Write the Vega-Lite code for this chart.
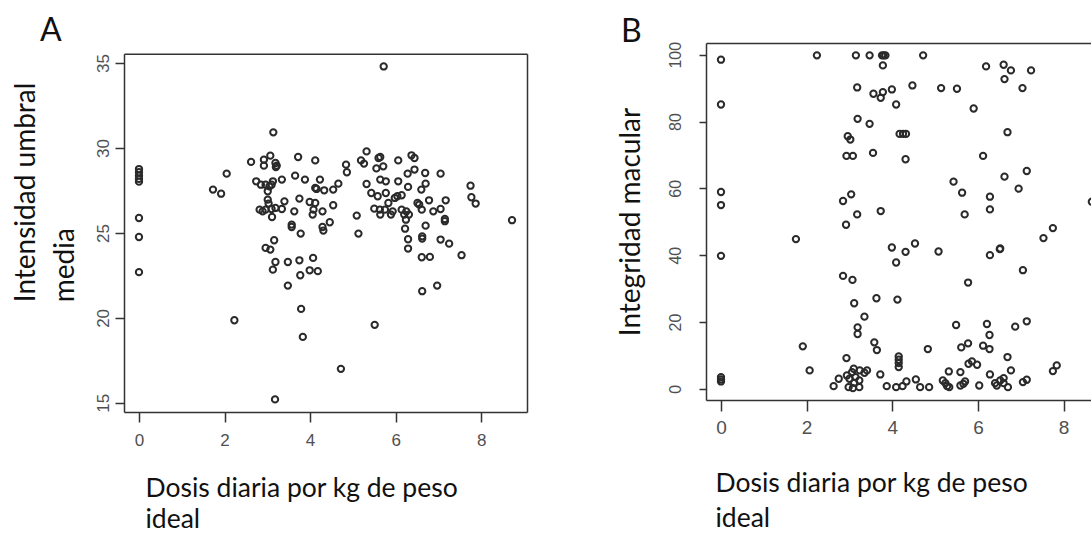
{
  "$schema": "https://vega.github.io/schema/vega-lite/v6.json",
  "background": "white",
  "padding": {"left": 12, "top": 15, "right": 0, "bottom": 0},
  "spacing": 90,
  "config": {
    "view": {"stroke": "#333", "strokeWidth": 1.5},
    "axis": {"grid": false, "domainColor": "#333", "domainWidth": 1.5, "tickColor": "#333", "tickWidth": 1.5, "labelFont": "Liberation Sans", "labelColor": "#505050", "titleFont": "Lato", "titleFontWeight": "normal", "titleColor": "#111"},
    "title": {"font": "Lato", "fontSize": 32, "fontWeight": "normal", "color": "#111", "anchor": "start", "frame": "group", "baseline": "alphabetic"}
  },
  "datasets": {
    "a": [
      {"x": 0, "y": 28.76}, {"x": 0, "y": 28.57}, {"x": 0, "y": 28.37}, {"x": 0, "y": 28.18}, {"x": 0, "y": 28.02},
      {"x": 0, "y": 25.88}, {"x": 0, "y": 24.76}, {"x": 0, "y": 22.69},
      {"x": 1.73, "y": 27.55}, {"x": 1.92, "y": 27.31}, {"x": 2.05, "y": 28.49}, {"x": 2.23, "y": 19.86},
      {"x": 2.62, "y": 29.18}, {"x": 2.74, "y": 28.04}, {"x": 2.85, "y": 27.84}, {"x": 2.92, "y": 29.31},
      {"x": 2.92, "y": 28.96}, {"x": 2.96, "y": 27.84}, {"x": 3.07, "y": 29.55}, {"x": 3.05, "y": 27.75},
      {"x": 3.1, "y": 27.84}, {"x": 3.13, "y": 28.04}, {"x": 3.14, "y": 30.92}, {"x": 3.19, "y": 29.12},
      {"x": 3.22, "y": 28.96}, {"x": 3.2, "y": 28.88}, {"x": 3.34, "y": 28.14}, {"x": 3.01, "y": 27.45},
      {"x": 3.01, "y": 26.96}, {"x": 3.03, "y": 26.73}, {"x": 2.82, "y": 26.37}, {"x": 2.89, "y": 26.27},
      {"x": 2.96, "y": 26.37}, {"x": 3.1, "y": 26.41}, {"x": 3.11, "y": 25.94}, {"x": 3.19, "y": 26.47},
      {"x": 3.34, "y": 26.41}, {"x": 3.4, "y": 26.86}, {"x": 3.16, "y": 24.57}, {"x": 2.96, "y": 24.12},
      {"x": 3.07, "y": 24.02}, {"x": 3.19, "y": 23.29}, {"x": 3.13, "y": 22.84}, {"x": 3.48, "y": 23.29},
      {"x": 3.48, "y": 21.9}, {"x": 3.18, "y": 15.2}, {"x": 3.57, "y": 25.49}, {"x": 3.57, "y": 25.35},
      {"x": 3.63, "y": 26.27}, {"x": 3.65, "y": 28.37}, {"x": 3.72, "y": 29.47}, {"x": 3.75, "y": 27.02},
      {"x": 3.78, "y": 24.96}, {"x": 3.75, "y": 23.39}, {"x": 3.77, "y": 22.51}, {"x": 3.79, "y": 20.53},
      {"x": 3.83, "y": 18.88}, {"x": 3.88, "y": 28.14}, {"x": 3.99, "y": 26.82}, {"x": 3.99, "y": 22.8},
      {"x": 4.06, "y": 26.08}, {"x": 4.08, "y": 26.37}, {"x": 4.12, "y": 29.27}, {"x": 4.12, "y": 26.76},
      {"x": 4.12, "y": 27.65}, {"x": 4.15, "y": 27.59}, {"x": 4.07, "y": 23.53}, {"x": 4.18, "y": 22.75},
      {"x": 4.23, "y": 28.14}, {"x": 4.29, "y": 26.27}, {"x": 4.29, "y": 25.35}, {"x": 4.31, "y": 25.14},
      {"x": 4.33, "y": 27.51}, {"x": 4.46, "y": 25.63}, {"x": 4.54, "y": 26.63}, {"x": 4.54, "y": 27.55},
      {"x": 4.66, "y": 27.9}, {"x": 4.72, "y": 17.0}, {"x": 4.84, "y": 29.02}, {"x": 4.86, "y": 28.57},
      {"x": 5.09, "y": 26.02}, {"x": 5.13, "y": 24.96}, {"x": 5.19, "y": 29.27}, {"x": 5.26, "y": 29.08},
      {"x": 5.32, "y": 29.8}, {"x": 5.32, "y": 27.88}, {"x": 5.43, "y": 27.35}, {"x": 5.5, "y": 26.43},
      {"x": 5.51, "y": 19.59}, {"x": 5.55, "y": 28.8}, {"x": 5.6, "y": 29.41}, {"x": 5.64, "y": 29.47},
      {"x": 5.58, "y": 27.16}, {"x": 5.63, "y": 26.37}, {"x": 5.64, "y": 26.08}, {"x": 5.64, "y": 28.14},
      {"x": 5.71, "y": 28.92}, {"x": 5.72, "y": 34.8}, {"x": 5.75, "y": 26.37}, {"x": 5.77, "y": 28.04},
      {"x": 5.77, "y": 27.35}, {"x": 5.83, "y": 26.76}, {"x": 5.89, "y": 26.08}, {"x": 5.93, "y": 26.27},
      {"x": 5.98, "y": 27.06}, {"x": 6.04, "y": 27.16}, {"x": 6.06, "y": 29.27}, {"x": 6.06, "y": 28.04},
      {"x": 6.14, "y": 27.22}, {"x": 6.14, "y": 26.37}, {"x": 6.2, "y": 26.08}, {"x": 6.22, "y": 25.25},
      {"x": 6.25, "y": 26.27}, {"x": 6.28, "y": 28.49}, {"x": 6.29, "y": 27.71}, {"x": 6.29, "y": 24.63},
      {"x": 6.29, "y": 24.08}, {"x": 6.24, "y": 25.78}, {"x": 6.31, "y": 26.08}, {"x": 6.37, "y": 29.57},
      {"x": 6.44, "y": 29.41}, {"x": 6.44, "y": 28.73}, {"x": 6.51, "y": 26.76}, {"x": 6.55, "y": 26.67},
      {"x": 6.6, "y": 27.55}, {"x": 6.61, "y": 26.37}, {"x": 6.62, "y": 24.8}, {"x": 6.62, "y": 24.67},
      {"x": 6.61, "y": 23.57}, {"x": 6.62, "y": 21.57}, {"x": 6.69, "y": 28.53}, {"x": 6.7, "y": 27.9},
      {"x": 6.7, "y": 25.43}, {"x": 6.78, "y": 26.92}, {"x": 6.8, "y": 23.59}, {"x": 6.88, "y": 26.27},
      {"x": 6.97, "y": 21.9}, {"x": 7.05, "y": 28.49}, {"x": 7.05, "y": 26.41}, {"x": 7.05, "y": 24.61},
      {"x": 7.15, "y": 25.82}, {"x": 7.15, "y": 25.69}, {"x": 7.17, "y": 26.92}, {"x": 7.25, "y": 24.37},
      {"x": 7.54, "y": 23.69}, {"x": 7.75, "y": 27.78}, {"x": 7.77, "y": 27.1}, {"x": 7.87, "y": 26.73},
      {"x": 8.72, "y": 25.75}
    ],
    "b": [
      {"x": 0, "y": 98.5}, {"x": 0, "y": 85.1}, {"x": 0, "y": 58.9}, {"x": 0, "y": 55.0}, {"x": 0, "y": 39.8},
      {"x": 0, "y": 3.5}, {"x": 0, "y": 2.8}, {"x": 0, "y": 2.2},
      {"x": 1.75, "y": 44.8}, {"x": 1.91, "y": 12.7}, {"x": 2.07, "y": 5.5}, {"x": 2.24, "y": 99.8},
      {"x": 2.63, "y": 0.8}, {"x": 2.75, "y": 3.0}, {"x": 2.85, "y": 56.2}, {"x": 2.85, "y": 33.8},
      {"x": 2.92, "y": 49.1}, {"x": 2.93, "y": 9.2}, {"x": 2.93, "y": 69.7}, {"x": 2.96, "y": 75.6},
      {"x": 3.02, "y": 74.6}, {"x": 3.04, "y": 58.2}, {"x": 3.07, "y": 32.6}, {"x": 3.08, "y": 69.7},
      {"x": 2.94, "y": 4.0}, {"x": 3.0, "y": 3.0}, {"x": 3.06, "y": 5.0}, {"x": 2.98, "y": 0.5},
      {"x": 3.08, "y": 0.2}, {"x": 3.1, "y": 6.0}, {"x": 3.14, "y": 3.5}, {"x": 3.11, "y": 1.8},
      {"x": 3.15, "y": 99.8}, {"x": 3.18, "y": 90.2}, {"x": 3.19, "y": 80.8}, {"x": 3.18, "y": 52.2},
      {"x": 3.11, "y": 25.6}, {"x": 3.19, "y": 18.4}, {"x": 3.19, "y": 16.4}, {"x": 3.23, "y": 0.5},
      {"x": 3.23, "y": 2.5}, {"x": 3.24, "y": 5.5}, {"x": 3.35, "y": 4.8}, {"x": 3.35, "y": 21.6},
      {"x": 3.41, "y": 5.5}, {"x": 3.47, "y": 99.8}, {"x": 3.47, "y": 79.3}, {"x": 3.55, "y": 70.6},
      {"x": 3.56, "y": 88.3}, {"x": 3.58, "y": 13.9}, {"x": 3.64, "y": 11.6}, {"x": 3.63, "y": 27.1},
      {"x": 3.72, "y": 4.3}, {"x": 3.73, "y": 53.2}, {"x": 3.73, "y": 87.1}, {"x": 3.78, "y": 88.8},
      {"x": 3.78, "y": 96.8}, {"x": 3.76, "y": 99.8}, {"x": 3.8, "y": 99.8}, {"x": 3.84, "y": 99.8},
      {"x": 3.87, "y": 0.8}, {"x": 3.99, "y": 89.6}, {"x": 3.99, "y": 42.3}, {"x": 4.09, "y": 85.1},
      {"x": 4.09, "y": 37.8}, {"x": 4.12, "y": 26.7}, {"x": 4.09, "y": 0.5}, {"x": 4.15, "y": 9.7},
      {"x": 4.15, "y": 8.7}, {"x": 4.15, "y": 7.7}, {"x": 4.15, "y": 6.5}, {"x": 4.17, "y": 76.3},
      {"x": 4.25, "y": 76.3}, {"x": 4.32, "y": 76.3}, {"x": 4.24, "y": 0.8}, {"x": 4.31, "y": 68.7},
      {"x": 4.31, "y": 41.0}, {"x": 4.33, "y": 2.2}, {"x": 4.47, "y": 90.8}, {"x": 4.53, "y": 43.5},
      {"x": 4.55, "y": 2.8}, {"x": 4.65, "y": 0.5}, {"x": 4.72, "y": 99.8}, {"x": 4.83, "y": 11.9},
      {"x": 4.86, "y": 0.5}, {"x": 5.08, "y": 41.1}, {"x": 5.14, "y": 90.0}, {"x": 5.18, "y": 2.5},
      {"x": 5.24, "y": 1.7}, {"x": 5.28, "y": 0.8}, {"x": 5.32, "y": 5.2}, {"x": 5.33, "y": 0.5},
      {"x": 5.43, "y": 62.0}, {"x": 5.51, "y": 89.8}, {"x": 5.49, "y": 19.1}, {"x": 5.59, "y": 5.0},
      {"x": 5.61, "y": 12.4}, {"x": 5.63, "y": 58.7}, {"x": 5.66, "y": 1.5}, {"x": 5.59, "y": 1.0},
      {"x": 5.7, "y": 2.2}, {"x": 5.69, "y": 52.2}, {"x": 5.77, "y": 13.6}, {"x": 5.77, "y": 31.8},
      {"x": 5.78, "y": 7.5}, {"x": 5.86, "y": 8.2}, {"x": 5.9, "y": 83.9}, {"x": 5.98, "y": 7.2},
      {"x": 6.03, "y": 1.0}, {"x": 6.12, "y": 12.9}, {"x": 6.12, "y": 69.7}, {"x": 6.19, "y": 96.5},
      {"x": 6.21, "y": 19.4}, {"x": 6.27, "y": 11.9}, {"x": 6.27, "y": 16.1}, {"x": 6.28, "y": 57.5},
      {"x": 6.28, "y": 53.7}, {"x": 6.28, "y": 40.0}, {"x": 6.28, "y": 4.3}, {"x": 6.4, "y": 1.7},
      {"x": 6.44, "y": 1.0}, {"x": 6.51, "y": 41.8}, {"x": 6.52, "y": 42.0}, {"x": 6.52, "y": 2.5},
      {"x": 6.6, "y": 97.0}, {"x": 6.62, "y": 92.7}, {"x": 6.62, "y": 63.5}, {"x": 6.6, "y": 3.2},
      {"x": 6.6, "y": 1.7}, {"x": 6.69, "y": 76.8}, {"x": 6.69, "y": 9.5}, {"x": 6.7, "y": 0.5},
      {"x": 6.77, "y": 95.3}, {"x": 6.77, "y": 5.5}, {"x": 6.87, "y": 18.6}, {"x": 6.95, "y": 59.9},
      {"x": 7.04, "y": 90.0}, {"x": 7.05, "y": 35.5}, {"x": 7.05, "y": 2.0}, {"x": 7.14, "y": 2.7},
      {"x": 7.14, "y": 65.2}, {"x": 7.14, "y": 20.2}, {"x": 7.24, "y": 95.3}, {"x": 7.53, "y": 45.1},
      {"x": 7.75, "y": 48.1}, {"x": 7.75, "y": 5.3}, {"x": 7.84, "y": 7.0}, {"x": 8.66, "y": 56.0}
    ]
  },
  "hconcat": [
    {
      "width": 403,
      "height": 369,
      "title": {"text": "A", "dx": -84, "offset": -5},
      "view": {"stroke": null},
      "data": {"name": "a"},
      "layer": [
        {
          "mark": {"type": "point", "filled": false, "stroke": "#2a2a2a", "strokeWidth": 2, "size": 40, "opacity": 1},
          "encoding": {
            "x": {
              "field": "x", "type": "quantitative",
              "scale": {"domain": [-0.35, 9.07], "nice": false, "zero": false},
              "axis": {
                "values": [0, 2, 4, 6, 8], "tickSize": 10, "labelPadding": 10, "labelFontSize": 17,
                "title": ["Dosis diaria por kg de peso", "ideal"],
                "titleFontSize": 26.5, "titleLineHeight": 31, "titleAlign": "left", "titleAnchor": "start",
                "titleBaseline": "alphabetic", "titleX": 21, "titleY": 84
              }
            },
            "y": {
              "field": "y", "type": "quantitative",
              "scale": {"domain": [14.46, 35.55], "nice": false, "zero": false, "range": [369, 10.7]},
              "axis": {
                "values": [15, 20, 25, 30, 35], "tickSize": 9, "labelPadding": 3, "labelFontSize": 17,
                "labelAngle": 270, "labelAlign": "center", "labelBaseline": "bottom",
                "title": ["Intensidad umbral", "media"],
                "titleFontSize": 28, "titleLineHeight": 38.7, "titleAngle": 270, "titleAlign": "left",
                "titleBaseline": "alphabetic", "titleX": -89.5, "titleY": 258.7
              }
            }
          }
        },
        {
          "mark": {"type": "point", "opacity": 0},
          "encoding": {
            "x": {
              "field": "x", "type": "quantitative",
              "axis": {"orient": "top", "offset": -10.7, "labels": false, "ticks": false, "title": null, "domain": true}
            },
            "y": {
              "field": "y", "type": "quantitative",
              "axis": {"orient": "right", "labels": false, "ticks": false, "title": null, "domain": true}
            }
          }
        }
      ],
      "resolve": {"axis": {"x": "independent", "y": "independent"}}
    },
    {
      "width": 388,
      "height": 357,
      "title": {"text": "B", "dx": -85, "offset": -8},
      "view": {"stroke": null},
      "data": {"name": "b"},
      "layer": [
        {
          "mark": {"type": "point", "filled": false, "stroke": "#2a2a2a", "strokeWidth": 2, "size": 40, "opacity": 1, "clip": true},
          "encoding": {
            "x": {
              "field": "x", "type": "quantitative",
              "scale": {"domain": [-0.35, 8.71], "nice": false, "zero": false},
              "axis": {
                "values": [0, 2, 4, 6, 8], "tickSize": 11, "labelPadding": 7, "labelFontSize": 19,
                "title": ["Dosis diaria por kg de peso", "ideal"],
                "titleFontSize": 26.5, "titleLineHeight": 35, "titleAlign": "left", "titleAnchor": "start",
                "titleBaseline": "alphabetic", "titleX": 9, "titleY": 91
              }
            },
            "y": {
              "field": "y", "type": "quantitative",
              "scale": {"domain": [-3.35, 103.5], "nice": false, "zero": false},
              "axis": {
                "values": [0, 20, 40, 60, 80, 100], "tickSize": 7, "labelPadding": 16, "labelFontSize": 16,
                "labelAngle": 270, "labelAlign": "center", "labelBaseline": "bottom",
                "title": "Integridad macular",
                "titleFontSize": 28, "titleAngle": 270, "titleBaseline": "alphabetic", "titleX": -67
              }
            }
          }
        },
        {
          "mark": {"type": "point", "opacity": 0, "clip": true},
          "encoding": {
            "x": {
              "field": "x", "type": "quantitative",
              "axis": {"orient": "top", "labels": false, "ticks": false, "title": null, "domain": true}
            },
            "y": {"field": "y", "type": "quantitative"}
          }
        }
      ],
      "resolve": {"axis": {"x": "independent"}}
    }
  ]
}
